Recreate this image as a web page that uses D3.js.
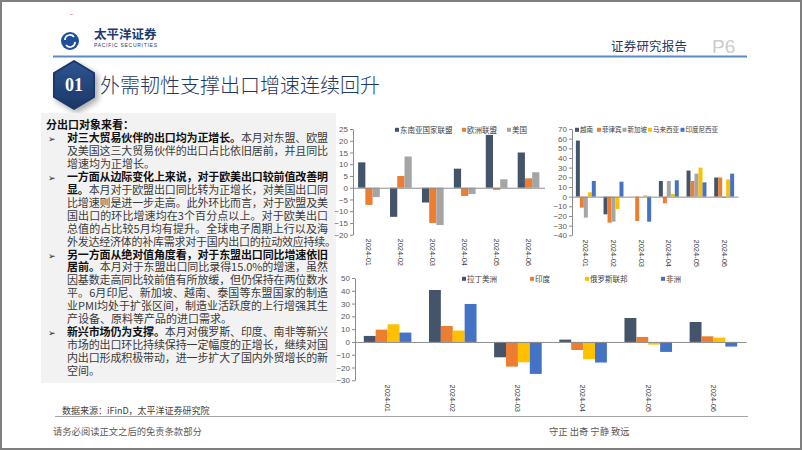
<!DOCTYPE html>
<html><head><meta charset="utf-8">
<script src="https://cdn.jsdelivr.net/npm/d3@7"></script>
<style>
html,body{margin:0;padding:0;background:#fff;}
svg{display:block;}
.cjk{font-family:"Noto Sans CJK SC","Noto Sans",sans-serif;}
</style></head>
<body>
<svg id="c" width="802" height="451"></svg>
<script>
// ---------------- DATA ----------------
const months = ["2024-01","2024-02","2024-03","2024-04","2024-05","2024-06"];

// Chart 1: 东盟 / 欧盟 / 美国 出口同比 (%)
const c1Names = ["东南亚国家联盟","欧洲联盟","美国"];
const asean = [10.8,-12.4,-6.3,8.1,22.5,15.0];
const eu    = [-7.3,5.0,-15.0,-3.5,-0.9,4.0];
const usa   = [-4.0,13.3,-15.9,-2.7,3.6,6.6];
const c1Ticks = [-20,-15,-10,-5,0,5,10,15,20,25];

// Chart 2: 东盟主要国家 出口同比 (%)
const c2Names = ["越南","菲律宾","新加坡","马来西亚","印度尼西亚"];
const vietnam     = [58.0,-18.3,null,16.2,27.0,19.8];
const philippines = [-11.4,-26.9,-25.2,-6.9,16.2,19.8];
const singapore   = [-21.7,-25.9,null,16.2,23.8,-1.4];
const malaysia    = [4.5,-12.8,1.4,2.8,30.0,17.9];
const indonesia   = [16.2,15.5,-25.9,16.9,14.8,23.8];
const c2Ticks = [-40,-30,-20,-10,0,10,20,30,40,50,60,70];

// Chart 3: 新兴市场 出口同比 (%)
const c3Names = ["拉丁美洲","印度","俄罗斯联邦","非洲"];
const latam  = [4.7,40.6,-12.0,1.8,18.7,15.6];
const india  = [9.6,12.5,-19.3,-6.3,3.9,4.4];
const russia = [13.8,8.9,-15.9,-13.5,-2.1,3.4];
const africa = [7.3,29.7,-25.0,-16.1,-7.8,-3.6];
const c3Ticks = [-30,-20,-10,0,10,20,30,40,50];

// text
const titleText = "外需韧性支撑出口增速连续回升";
const headerText = "证券研究报告";
const pageText = "P6";
const sourceText = "数据来源：iFinD，太平洋证券研究院";
const disclaimerText = "请务必阅读正文之后的免责条款部分";
const mottoText = "守正 出奇 宁静 致远";
const boxHeading = "分出口对象来看：";
// each line: [bullet?, boldPart, normalPart, justify?]
const boxLines = [
  [true, "对三大贸易伙伴的出口均为正增长。", "本月对东盟、欧盟", true],
  [false, "", "及美国这三大贸易伙伴的出口占比依旧居前，并且同比", true],
  [false, "", "增速均为正增长。", false],
  [true, "一方面从边际变化上来说，对于欧美出口较前值改善明", "", true],
  [false, "显。", "本月对于欧盟出口同比转为正增长，对美国出口同", true],
  [false, "", "比增速则是进一步走高。此外环比而言，对于欧盟及美", true],
  [false, "", "国出口的环比增速均在3个百分点以上。对于欧美出口", true],
  [false, "", "总值的占比较5月均有提升。全球电子周期上行以及海", true],
  [false, "", "外发达经济体的补库需求对于国内出口的拉动效应持续。", "wide"],
  [true, "另一方面从绝对值角度看，对于东盟出口同比增速依旧", "", true],
  [false, "居前。", "本月对于东盟出口同比录得15.0%的增速，虽然", true],
  [false, "", "因基数走高同比较前值有所放缓，但仍保持在两位数水", true],
  [false, "", "平。6月印尼、新加坡、越南、泰国等东盟国家的制造", true],
  [false, "", "业PMI均处于扩张区间，制造业活跃度的上行增强其生", true],
  [false, "", "产设备、原料等产品的进口需求。", false],
  [true, "新兴市场仍为支撑。", "本月对俄罗斯、印度、南非等新兴", true],
  [false, "", "市场的出口环比持续保持一定幅度的正增长，继续对国", true],
  [false, "", "内出口形成积极带动，进一步扩大了国内外贸增长的新", true],
  [false, "", "空间。", false]
];

// colours
const NAVY="#44546a", ORANGE="#ed7d31", GREY="#a5a5a5", YELLOW="#ffc000", BLUE="#4472c4";

// ---------------- DRAW ----------------
const svg = d3.select("#c");
const defs = svg.append("defs");
const hg = defs.append("linearGradient").attr("id","hexg").attr("x1","0").attr("y1","0").attr("x2","0").attr("y2","1");
hg.append("stop").attr("offset","0").attr("stop-color","#2d5592");
hg.append("stop").attr("offset","1").attr("stop-color","#1c3766");
const sh = defs.append("filter").attr("id","shadow").attr("x","-50%").attr("y","-50%").attr("width","200%").attr("height","200%");
sh.append("feGaussianBlur").attr("in","SourceAlpha").attr("stdDeviation","3");
sh.append("feOffset").attr("dx","3").attr("dy","3").attr("result","b");
sh.append("feComponentTransfer").append("feFuncA").attr("type","linear").attr("slope","0.35");
const fm = sh.append("feMerge"); fm.append("feMergeNode"); fm.append("feMergeNode").attr("in","SourceGraphic");

// slide border
svg.append("rect").attr("x",1).attr("y",1).attr("width",800).attr("height",448)
  .attr("fill","#fff").attr("stroke","#7f7f7f").attr("stroke-width",2);

// logo
const logo = svg.append("g");
logo.append("path")
  .attr("d","M78,16 A21,21 0 0 0 64,58 A18,18 0 0 1 78,16 Z")
  .attr("fill","#e8262d");
logo.append("circle").attr("cx",70).attr("cy",41).attr("r",9).attr("fill","#1f4e9a");
logo.append("path").attr("d","M65,40 A5,5 0 0 1 74,37 M75,42 A5,5 0 0 1 66,45")
  .attr("fill","none").attr("stroke","#fff").attr("stroke-width",1.8);
logo.append("text").attr("class","cjk").attr("x",94).attr("y",39)
  .attr("font-size",12.5).attr("font-weight",700).attr("fill","#1d3a6d").text("太平洋证券");
logo.append("text").attr("x",94).attr("y",47).attr("font-family","Liberation Sans, Arial")
  .attr("font-size",5).attr("fill","#1d3a6d").attr("textLength",63).attr("lengthAdjust","spacing")
  .text("PACIFIC SECURITIES");

// header right
svg.append("text").attr("class","cjk").attr("x",611).attr("y",51).attr("font-size",12.5)
  .attr("fill","#1f3864").attr("textLength",76).attr("lengthAdjust","spacing").text(headerText);
svg.append("text").attr("x",712).attr("y",53).attr("font-family","Liberation Sans, Arial")
  .attr("font-size",19).attr("fill","#cccccc").text(pageText);
svg.append("line").attr("x1",53).attr("x2",747).attr("y1",56.5).attr("y2",56.5)
  .attr("stroke","#5b8ac4").attr("stroke-width",2);

// section hexagon + title
const hx=74, hy=85;
svg.append("path")
  .attr("d",`M${hx},${hy-24} L${hx+20},${hy-12} L${hx+20},${hy+12} L${hx},${hy+24} L${hx-20},${hy+12} L${hx-20},${hy-12} Z`)
  .attr("fill","url(#hexg)").attr("stroke","#1c3766").attr("stroke-linejoin","round").attr("stroke-width",2)
  .attr("filter","url(#shadow)");
svg.append("text").attr("x",hx).attr("y",hy+6).attr("text-anchor","middle")
  .attr("font-family","Liberation Serif, DejaVu Serif, serif").attr("font-weight",700)
  .attr("font-size",18).attr("fill","#fff").text("01");
svg.append("text").attr("class","cjk").attr("x",100).attr("y",93).attr("font-size",20)
  .attr("font-weight",300).attr("fill","#1f3864").text(titleText);

// text box
svg.append("rect").attr("x",41).attr("y",113).attr("width",295).attr("height",270).attr("fill","#f2f2f2");
const tb = svg.append("g").attr("class","cjk");
const lh = 12.95, ly0 = 129;
tb.append("text").attr("x",46).attr("y",ly0).attr("font-size",11).attr("font-weight",700)
  .attr("fill","#111").text(boxHeading);
boxLines.forEach((L,i)=>{
  const y = ly0 + lh*(i+1);
  if(L[0]) tb.append("text").attr("x",48).attr("y",y).attr("font-family","DejaVu Sans")
    .attr("font-size",9).attr("fill","#222").text("➢");
  const t = tb.append("text").attr("x",67).attr("y",y).attr("font-size",11);
  if(L[3]===true) t.attr("textLength",261).attr("lengthAdjust","spacing");
  if(L[3]==="wide") t.attr("textLength",269).attr("lengthAdjust","spacing");
  if(L[1]) t.append("tspan").attr("font-weight",700).attr("fill","#111").text(L[1]);
  if(L[2]) t.append("tspan").attr("fill","#3a3a3a").text(L[2]);
});

// source / footer
svg.append("text").attr("class","cjk").attr("x",62).attr("y",414).attr("font-size",9)
  .attr("fill","#404040").text(sourceText);
svg.append("line").attr("x1",55).attr("x2",748).attr("y1",416.5).attr("y2",416.5)
  .attr("stroke","#a6a6a6").attr("stroke-width",1);
svg.append("text").attr("class","cjk").attr("x",53).attr("y",435).attr("font-size",9.3)
  .attr("fill","#595959").text(disclaimerText);
svg.append("text").attr("class","cjk").attr("x",549).attr("y",435).attr("font-size",9.3)
  .attr("fill","#595959").text(mottoText);

// ---------------- CHARTS ----------------
function barChart(cfg){
  const g = svg.append("g");
  const x = d3.scaleBand().domain(months).range([cfg.x0,cfg.x1]).paddingInner(0).paddingOuter(0);
  const step = x.bandwidth()*cfg.fill/cfg.series.length;
  const off = (x.bandwidth()-step*cfg.series.length)/2;
  const y = d3.scaleLinear().domain(cfg.domain).range([cfg.yBottom,cfg.yTop]);

  // bars
  cfg.series.forEach((s,si)=>{
    g.append("g").selectAll("rect")
      .data(s.values.map((v,i)=>({v,m:months[i]})).filter(d=>d.v!==null))
      .join("rect")
      .attr("x",d=>x(d.m)+off+step*si)
      .attr("width",step)
      .attr("y",d=>y(Math.max(0,d.v)))
      .attr("height",d=>Math.abs(y(d.v)-y(0)))
      .attr("fill",s.color);
  });

  // zero line
  const ax0 = g.append("g").attr("transform",`translate(0,${y(0)})`)
    .call(d3.axisBottom(x).tickSize(0).tickSizeOuter(0).tickFormat(""));
  ax0.select(".domain").attr("stroke","#8c8c8c");

  // y axis
  const ay = g.append("g").attr("transform",`translate(${cfg.x0},0)`)
    .call(d3.axisLeft(y).tickValues(cfg.ticks).tickSize(3).tickSizeOuter(0).tickPadding(2));
  ay.select(".domain").attr("stroke","#8c8c8c");
  ay.selectAll(".tick line").attr("stroke","#8c8c8c");
  ay.selectAll(".tick text").attr("font-family","Liberation Sans, Arial").attr("font-size",8).attr("fill","#595959");

  // category labels
  const axl = g.append("g").attr("transform",`translate(0,${cfg.labelY})`)
    .call(d3.axisBottom(x).tickSize(0).tickPadding(0));
  axl.select(".domain").remove();
  axl.selectAll(".tick text")
    .attr("transform","rotate(90)").attr("x",0).attr("y",0).attr("dy","0.35em")
    .attr("text-anchor","start").attr("font-family","Liberation Sans, Arial")
    .attr("font-size",7.5).attr("fill","#404040");

  // legend
  cfg.series.forEach((s,si)=>{
    const lx = cfg.legendX[si];
    g.append("rect").attr("x",lx).attr("y",cfg.legendY-2.2).attr("width",4).attr("height",4).attr("fill",s.color);
    g.append("text").attr("class","cjk").attr("x",lx+5).attr("y",cfg.legendY).attr("dy","0.35em")
      .attr("font-size",cfg.legendFont).attr("fill","#404040").text(s.name);
  });
}

barChart({
  x0:353, x1:544.5, yTop:129, yBottom:234.7, domain:[-20,25], ticks:c1Ticks, fill:0.68,
  labelY:238.5, legendY:130, legendX:[395,462,507], legendFont:7.5,
  series:[
    {name:c1Names[0], values:asean, color:NAVY},
    {name:c1Names[1], values:eu, color:ORANGE},
    {name:c1Names[2], values:usa, color:GREY}
  ]
});

barChart({
  x0:572, x1:738, yTop:129, yBottom:235.3, domain:[-40,70], ticks:c2Ticks, fill:0.72,
  labelY:239.5, legendY:130, legendX:[575,597,622.5,648,680.5], legendFont:6.5,
  series:[
    {name:c2Names[0], values:vietnam, color:NAVY},
    {name:c2Names[1], values:philippines, color:ORANGE},
    {name:c2Names[2], values:singapore, color:GREY},
    {name:c2Names[3], values:malaysia, color:YELLOW},
    {name:c2Names[4], values:indonesia, color:BLUE}
  ]
});

barChart({
  x0:355, x1:746, yTop:278, yBottom:380.3, domain:[-30,50], ticks:c3Ticks, fill:0.73,
  labelY:384.5, legendY:279, legendX:[462,530,585,661], legendFont:7.5,
  series:[
    {name:c3Names[0], values:latam, color:NAVY},
    {name:c3Names[1], values:india, color:ORANGE},
    {name:c3Names[2], values:russia, color:YELLOW},
    {name:c3Names[3], values:africa, color:BLUE}
  ]
});
</script>
</body></html>
